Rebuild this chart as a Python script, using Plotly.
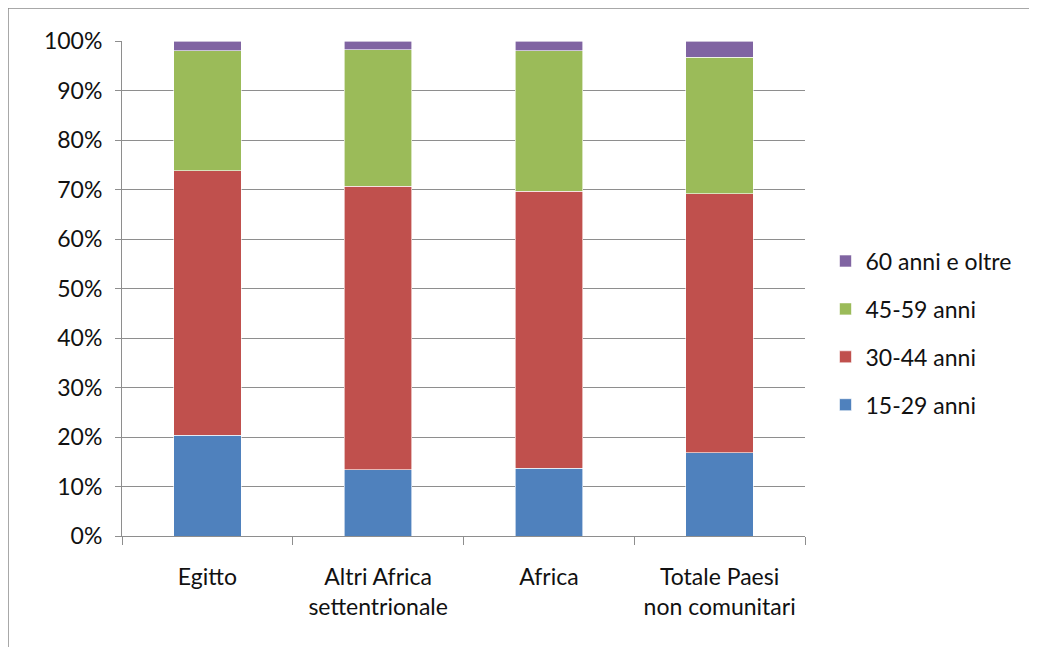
import plotly.graph_objects as go

categories = ["Egitto", "Altri Africa<br>settentrionale", "Africa", "Totale Paesi<br>non comunitari"]
age_15_29 = [20.4, 13.4, 13.7, 16.8]
age_30_44 = [53.4, 57.3, 55.9, 52.3]
age_45_59 = [24.2, 27.5, 28.4, 27.6]
age_60_plus = [2.0, 1.8, 2.0, 3.3]

series = [
    ("15-29 anni", age_15_29, "#4F81BD"),
    ("30-44 anni", age_30_44, "#C0504D"),
    ("45-59 anni", age_45_59, "#9BBB59"),
    ("60 anni e oltre", age_60_plus, "#8064A2"),
]

# page body has an 8px margin, so the figure sits 8px in from the window edge
W, H = 1037, 647
L, T = 114, 33
pw, ph = 683, 495
R, B = W - L - pw, H - T - ph

fig = go.Figure()
for i, (name, vals, color) in enumerate(series):
    fig.add_trace(go.Bar(
        x=categories, y=vals, name=name,
        marker=dict(color=color, line=dict(color="white", width=0.6)),
        legendgroup=f"g{i}", legendrank=100 - i,
    ))

# outer chart frame (Excel style)
fig.add_shape(type="rect", xref="paper", yref="paper",
              x0=(0 - L) / pw, x1=(1022 - L) / pw,
              y0=-(H + 10 - T - ph) / ph, y1=1 + (T - 0) / ph,
              line=dict(color="#8c8c8c", width=1.5), layer="below")

fig.update_layout(
    width=W, height=H,
    barmode="stack", bargap=0.605,
    margin=dict(l=L, r=R, t=T, b=B),
    paper_bgcolor="white", plot_bgcolor="white",
    font=dict(family="Lato", size=23, color="#111111"),
    legend=dict(
        x=1.03, y=0.41, yanchor="middle", xanchor="left",
        traceorder="grouped", tracegroupgap=15,
        font=dict(size=23), itemwidth=30,
    ),
    showlegend=True,
)

fig.update_yaxes(
    range=[0, 100], dtick=10, ticksuffix="%",
    showgrid=True, gridcolor="#8e8e8e", gridwidth=1,
    showline=True, linecolor="#8e8e8e", linewidth=1,
    ticks="outside", ticklen=6, tickcolor="#8e8e8e",
    ticklabelstandoff=8, fixedrange=True,
)
fig.update_xaxes(
    showline=True, linecolor="#8e8e8e", linewidth=1,
    ticks="outside", tickson="boundaries", ticklen=8, tickcolor="#8e8e8e",
    ticklabelstandoff=20,
)

fig.write_html("out.html")
